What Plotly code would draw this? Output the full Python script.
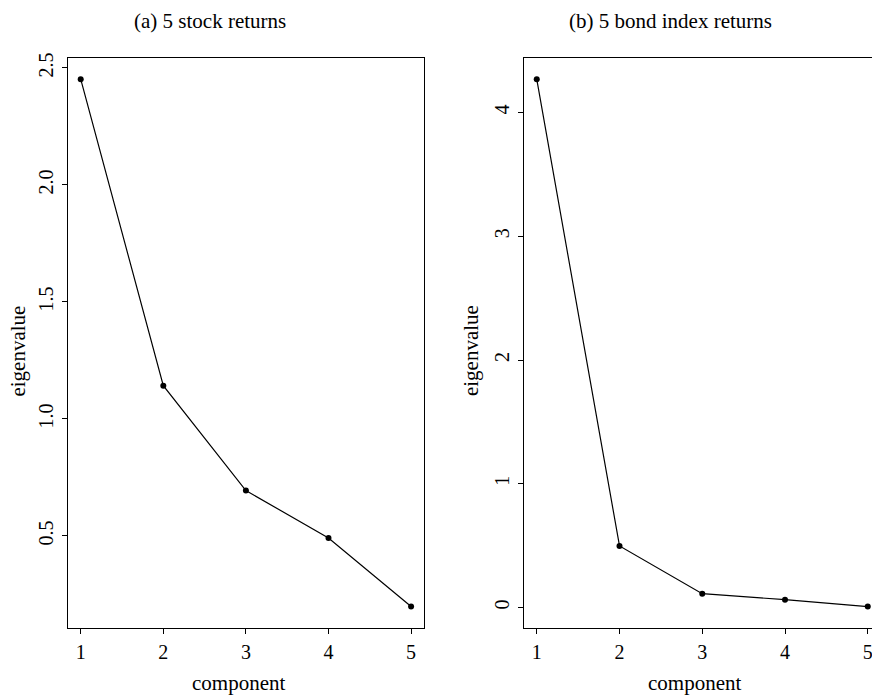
import plotly.graph_objects as go

components = [1, 2, 3, 4, 5]
stock_eig = [2.452, 1.142, 0.694, 0.491, 0.198]
bond_eig = [4.27, 0.498, 0.112, 0.064, 0.008]

x_ticks = [1, 2, 3, 4, 5]
stock_yticks = [0.5, 1.0, 1.5, 2.0, 2.5]
stock_yticktext = ["0.5", "1.0", "1.5", "2.0", "2.5"]
bond_yticks = [0, 1, 2, 3, 4]
bond_yticktext = ["0", "1", "2", "3", "4"]

titles = ["(a) 5 stock returns", "(b) 5 bond index returns"]
xlabel = "component"
ylabel = "eigenvalue"

W, H = 880, 697
OFF = 8  # page body margin offset
FONT = "Liberation Serif, Times New Roman, serif"


def px_x(sx):
    return (sx - OFF) / W


def px_y(sy):
    return (H - (sy - OFF)) / H


def rrange(vals):
    lo, hi = min(vals), max(vals)
    pad = 0.04 * (hi - lo)
    return [lo - pad, hi + pad]


fig = go.Figure()
for i, ys in enumerate([stock_eig, bond_eig]):
    fig.add_trace(go.Scatter(
        x=components, y=ys, mode="lines+markers",
        line=dict(color="black", width=1.2),
        marker=dict(color="black", size=6),
        xaxis="x" if i == 0 else "x2",
        yaxis="y" if i == 0 else "y2",
        showlegend=False, hoverinfo="skip",
    ))

ydom = [px_y(627), px_y(52.5)]
axis_common = dict(
    showline=True, mirror=True, linecolor="black", linewidth=1,
    ticks="outside", ticklen=5, tickcolor="black", tickwidth=1,
    showgrid=False, zeroline=False,
    tickfont=dict(family=FONT, size=20, color="black"),
)

fig.update_layout(
    width=W, height=H,
    margin=dict(l=0, r=0, t=0, b=0),
    paper_bgcolor="white", plot_bgcolor="white",
    xaxis=dict(domain=[px_x(67.5), px_x(424.3)], range=rrange(components),
               tickvals=x_ticks, anchor="y", ticklabelstandoff=1, **axis_common),
    yaxis=dict(domain=ydom, range=rrange(stock_eig), tickvals=stock_yticks,
               ticktext=stock_yticktext, tickangle=-90, anchor="x",
               ticklabelstandoff=1, **axis_common),
    xaxis2=dict(domain=[px_x(523.5), px_x(881)], range=rrange(components),
                tickvals=x_ticks, anchor="y2", ticklabelstandoff=1, **axis_common),
    yaxis2=dict(domain=ydom, range=rrange(bond_eig), tickvals=bond_yticks,
                ticktext=bond_yticktext, tickangle=-90, anchor="x2",
                ticklabelstandoff=1, **axis_common),
)

annots = []
for cx, t in zip([210, 670], titles):
    annots.append(dict(text=t, x=px_x(cx), y=px_y(15), xref="paper", yref="paper",
                       showarrow=False, xanchor="center", yanchor="middle",
                       font=dict(family=FONT, size=21, color="black")))
for cx in [238, 694]:
    annots.append(dict(text=xlabel, x=px_x(cx), y=px_y(683), xref="paper", yref="paper",
                       showarrow=False, xanchor="center", yanchor="middle",
                       font=dict(family=FONT, size=21, color="black")))
for cx in [18.5, 471]:
    annots.append(dict(text=ylabel, x=px_x(cx), y=px_y(348), xref="paper", yref="paper",
                       showarrow=False, xanchor="center", yanchor="middle", textangle=-90,
                       font=dict(family=FONT, size=21, color="black")))
fig.update_layout(annotations=annots)

fig.write_html("out.html")
